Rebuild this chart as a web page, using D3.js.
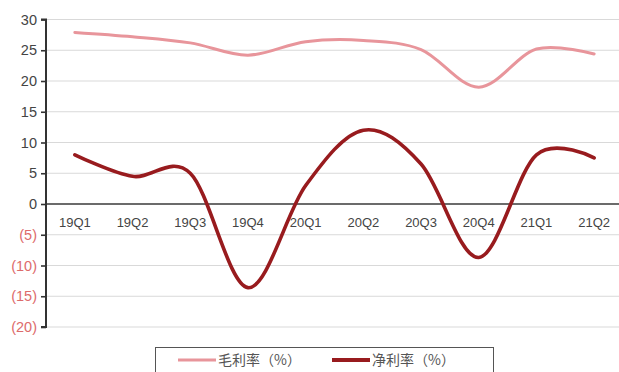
<!DOCTYPE html>
<html>
<head>
<meta charset="utf-8">
<script src="https://cdn.jsdelivr.net/npm/d3@7"></script>
<style>
  html, body { margin: 0; padding: 0; background: #fff; }
  svg { display: block; }
</style>
</head>
<body>
<svg id="chart" width="619" height="372"></svg>
<script>
// Quarterly margins (%)
const quarters = ["19Q1", "19Q2", "19Q3", "19Q4", "20Q1", "20Q2", "20Q3", "20Q4", "21Q1", "21Q2"];
const grossMargin = [27.9, 27.2, 26.2, 24.2, 26.4, 26.6, 25.1, 19.0, 25.2, 24.4];
const netMargin = [8.0, 4.5, 5.0, -13.6, 3.0, 12.0, 6.5, -8.7, 8.0, 7.5];
const yTicks = [30, 25, 20, 15, 10, 5, 0, -5, -10, -15, -20];
const legendLabels = ["毛利率（%）", "净利率（%）"];

const colors = { gross: "#e8959b", net: "#981b1e" };
const svg = d3.select("#chart");
const W = 619;

const x = d3.scaleBand().domain(quarters).range([46, 623]);
const y = d3.scaleLinear().domain([-20, 30]).range([327, 19.5]);
const cx = q => x(q) + x.bandwidth() / 2;

// Horizontal gridlines
svg.append("g")
  .selectAll("line")
  .data(yTicks.filter(t => t !== 0))
  .join("line")
  .attr("x1", 46).attr("x2", W)
  .attr("y1", d => y(d)).attr("y2", d => y(d))
  .attr("stroke", "#d9d9d9").attr("stroke-width", 1.2);

// Zero baseline
svg.append("line")
  .attr("x1", 46).attr("x2", W)
  .attr("y1", y(0)).attr("y2", y(0))
  .attr("stroke", "#3a3a3a").attr("stroke-width", 1.6);

// Y axis with bracketed negatives
const yAxis = d3.axisLeft(y)
  .tickValues(yTicks)
  .tickSize(5)
  .tickPadding(4)
  .tickFormat(d => d < 0 ? `(${-d})` : `${d}`);
const gy = svg.append("g").attr("transform", "translate(46,0)").call(yAxis);
gy.select(".domain").attr("stroke", "#333").attr("stroke-width", 2)
  .attr("d", `M-5,${y(30)}H0V${y(-20)}H-5`);
gy.selectAll(".tick line").attr("stroke", "#333").attr("stroke-width", 1.6);
gy.selectAll(".tick text")
  .attr("font-family", "'Liberation Sans Narrow', 'Liberation Sans', Arial, sans-serif")
  .attr("font-size", 14.5)
  .attr("fill", d => d < 0 ? "#dd6b6b" : "#444");

// Category labels just below the baseline
svg.append("g")
  .selectAll("text")
  .data(quarters)
  .join("text")
  .attr("x", d => cx(d))
  .attr("y", y(0) + 23)
  .attr("text-anchor", "middle")
  .attr("font-family", "'Liberation Sans Narrow', 'Liberation Sans', Arial, sans-serif")
  .attr("font-size", 13)
  .attr("fill", "#444")
  .text(d => d);

// Smoothed series lines
const line = d3.line()
  .x(d => cx(d.q))
  .y(d => y(d.v))
  .curve(d3.curveCardinal.tension(0));

const series = [
  { key: "gross", values: grossMargin, width: 3 },
  { key: "net", values: netMargin, width: 3.6 }
];
series.forEach(s => {
  svg.append("path")
    .datum(quarters.map((q, i) => ({ q, v: s.values[i] })))
    .attr("fill", "none")
    .attr("stroke", colors[s.key])
    .attr("stroke-width", s.width)
    .attr("stroke-linecap", "round")
    .attr("d", line);
});

// Legend
const lg = svg.append("g");
lg.append("rect")
  .attr("x", 155.5).attr("y", 347.5)
  .attr("width", 338).attr("height", 40)
  .attr("fill", "#fff").attr("stroke", "#555").attr("stroke-width", 1);
const legendItems = [
  { label: legendLabels[0], color: colors.gross, x: 178, w: 3 },
  { label: legendLabels[1], color: colors.net, x: 332, w: 4 }
];
legendItems.forEach(it => {
  lg.append("line")
    .attr("x1", it.x).attr("x2", it.x + 38)
    .attr("y1", 360).attr("y2", 360)
    .attr("stroke", it.color).attr("stroke-width", it.w);
  lg.append("text")
    .attr("x", it.x + 40).attr("y", 365)
    .attr("font-family", "'Noto Sans CJK SC', sans-serif")
    .attr("font-size", 14)
    .attr("fill", "#555")
    .text(it.label);
});
</script>
</body>
</html>
